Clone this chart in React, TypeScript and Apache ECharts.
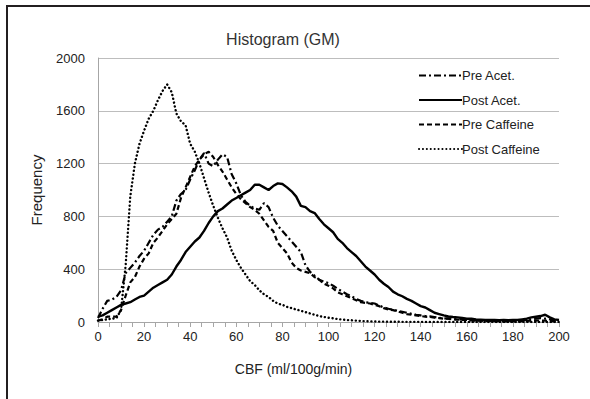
import React, { useEffect, useRef } from "react";
import * as echarts from "echarts";

const cbf = [
  0, 2, 4, 6, 8, 10, 12, 14, 16, 18, 20, 22, 24, 26, 28, 30, 32, 34, 36, 38,
  40, 42, 44, 46, 48, 50, 52, 54, 56, 58, 60, 62, 64, 66, 68, 70, 72, 74, 76, 78,
  80, 82, 84, 86, 88, 90, 92, 94, 96, 98, 100, 102, 104, 106, 108, 110, 112, 114, 116, 118,
  120, 122, 124, 126, 128, 130, 132, 134, 136, 138, 140, 142, 144, 146, 148, 150, 152, 154, 156, 158,
  160, 162, 164, 166, 168, 170, 172, 174, 176, 178, 180, 182, 184, 186, 188, 190, 192, 194, 196, 198, 200,
];

const preAcet = [
  30, 100, 160, 170, 190, 240, 370, 410, 450, 500, 540, 600, 660, 700, 720, 760, 800, 920, 970, 1000,
  1080, 1150, 1230, 1280, 1200, 1180, 1230, 1270, 1250, 1120, 1050, 960, 910, 880, 860, 850, 900, 870, 790, 730,
  690, 650, 610, 570, 530, 430, 380, 350, 320, 305, 295, 275, 250, 230, 210, 195, 175, 160, 150, 145,
  140, 125, 110, 100, 92, 85, 78, 70, 62, 55, 50, 45, 42, 38, 32, 28, 25, 22, 20, 18,
  16, 14, 12, 12, 10, 10, 8, 8, 8, 8, 10, 10, 12, 15, 20, 25, 30, 25, 20, 10, 5,
];

const postAcet = [
  40, 50, 70, 90, 110, 130, 140, 150, 170, 190, 200, 230, 260, 280, 300, 320, 360, 420, 470, 530,
  570, 610, 640, 690, 750, 800, 840, 860, 890, 920, 940, 960, 980, 1000, 1040, 1040, 1020, 1000, 1030, 1050,
  1045, 1020, 990, 950, 880, 870, 840, 825, 780, 740, 710, 680, 630, 600, 560, 530, 500, 460, 420, 390,
  360, 320, 290, 265, 230, 210, 195, 175, 160, 140, 120, 110, 90, 70, 60, 50, 42, 38, 35, 30,
  25, 25, 20, 18, 15, 15, 15, 14, 15, 14, 15, 15, 20, 25, 35, 40, 45, 55, 35, 20, 15,
];

const preCaffeine = [
  10, 20, 40, 40, 40, 90, 200, 300, 340, 420, 480, 520, 600, 640, 690, 740, 780, 820, 940, 1020,
  1100, 1180, 1230, 1270, 1290, 1250, 1190, 1140, 1080, 1020, 970, 930, 900, 870, 850, 820, 770, 720, 690, 600,
  560, 520, 450, 410, 390, 380, 370, 340, 320, 290, 275, 255, 225, 210, 195, 180, 165, 150, 145, 140,
  130, 120, 105, 95, 90, 80, 70, 60, 55, 50, 45, 40, 38, 32, 30, 25, 25, 20, 18, 15,
  15, 12, 10, 10, 8, 8, 6, 6, 5, 5, 5, 5, 6, 8, 10, 10, 12, 10, 8, 5, 5,
];

const postCaffeine = [
  10, 15, 20, 25, 30, 90, 430, 950, 1200, 1350, 1450, 1540, 1600, 1680, 1750, 1800, 1740, 1580, 1520, 1490,
  1350, 1290, 1200, 1090, 980, 880, 790, 710, 640, 540, 470, 410, 360, 310, 280, 240, 210, 190, 160, 140,
  130, 115, 105, 95, 85, 75, 65, 55, 45, 38, 32, 28, 22, 18, 15, 13, 10, 8, 6, 5,
  4, 3, 3, 2, 2, 2, 1, 1, 1, 1, 1, 0, 0, 0, 0, 0, 0, 0, 0, 0,
  0, 0, 0, 0, 0, 0, 0, 0, 0, 0, 0, 0, 0, 0, 0, 0, 0, 0, 0, 0, 0,
];

const seriesNames = ["Pre Acet.", "Post Acet.", "Pre Caffeine", "Post Caffeine"];
const xTicks = [0, 200, 20];
const yTicks = [0, 2000, 400];

const FONT = "'Liberation Sans', Arial, sans-serif";

export default function App() {
  const ref = useRef<HTMLDivElement>(null);
  useEffect(() => {
    if (!ref.current) return;
    const chart = echarts.init(ref.current, null, { renderer: "svg" });
    const pair = (ys: number[]) => cbf.map((x, i) => [x, ys[i]]);
    const styles: any[] = [
      { type: [7, 3, 2, 3], width: 2.2 },
      { type: "solid", width: 2.4 },
      { type: [5, 3], width: 2.2 },
      { type: [0.1, 3.8], width: 2.4, cap: "round" },
    ];
    const datas = [preAcet, postAcet, preCaffeine, postCaffeine];
    chart.setOption({
      animation: false,
      backgroundColor: "#fff",
      textStyle: { fontFamily: FONT },
      title: {
        text: "Histogram (GM)",
        left: 278,
        textAlign: "center",
        top: 26,
        textStyle: { fontFamily: FONT, fontSize: 16, fontWeight: "normal", color: "#333" },
      },
      legend: {
        orient: "vertical",
        left: 413,
        top: 64,
        itemWidth: 43,
        itemHeight: 14,
        itemGap: 11.5,
        itemStyle: { opacity: 0 },
        data: seriesNames,
        textStyle: { fontFamily: FONT, fontSize: 13, color: "#222", padding: [0, 0, 0, -5] },
      },
      grid: { left: 98, right: 31, top: 58, bottom: 77 },
      xAxis: {
        type: "value",
        min: xTicks[0],
        max: xTicks[1],
        interval: xTicks[2],
        name: "CBF (ml/100g/min)",
        nameLocation: "middle",
        nameGap: 40,
        nameTextStyle: { fontFamily: FONT, fontSize: 14, color: "#222", padding: [0, 70, 0, 0] },
        axisLine: { lineStyle: { color: "#a6a6a6", width: 1 } },
        axisTick: { show: true, length: 5, lineStyle: { color: "#a6a6a6" } },
        minorTick: { show: true, splitNumber: 4, length: 5, lineStyle: { color: "#a6a6a6" } },
        axisLabel: { fontFamily: FONT, fontSize: 13, color: "#222", margin: 8 },
        splitLine: { show: false },
      },
      yAxis: {
        type: "value",
        min: yTicks[0],
        max: yTicks[1],
        interval: yTicks[2],
        name: "Frequency",
        nameLocation: "middle",
        nameGap: 54,
        nameTextStyle: { fontFamily: FONT, fontSize: 15, color: "#222" },
        axisLine: { show: true, lineStyle: { color: "#a6a6a6", width: 1 } },
        axisTick: { show: false },
        axisLabel: {
          fontFamily: FONT,
          fontSize: 13,
          color: "#222",
          margin: 13,
          formatter: (v: number) => String(v),
        },
        splitLine: { show: true, lineStyle: { color: "#bdbdbd", width: 1 } },
      },
      series: seriesNames.map((name, i) => ({
        name,
        type: "line",
        data: pair(datas[i]),
        showSymbol: false,
        symbol: "none",
        color: "#000",
        lineStyle: { color: "#000", ...styles[i] },
        z: 3,
      })),
      graphic: [
        {
          type: "rect",
          shape: { x: 7, y: 6, width: 620, height: 420 },
          style: { fill: "none", stroke: "#231f20", lineWidth: 2 },
          silent: true,
        },
      ],
    });
    return () => chart.dispose();
  }, []);
  return <div ref={ref} style={{ position: "absolute", left: 0, top: 0, width: 590, height: 399 }} />;
}
